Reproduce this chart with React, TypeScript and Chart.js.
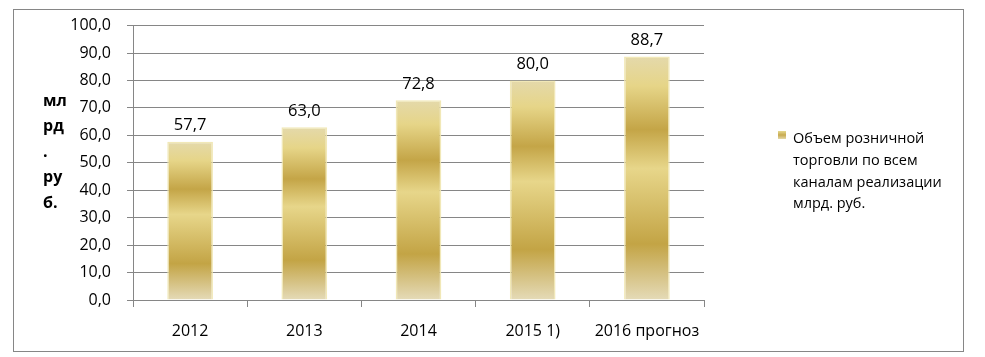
import { useEffect, useRef } from "react";
import { Chart, registerables } from "chart.js";

Chart.register(...registerables);

const categories = ["2012", "2013", "2014", "2015 1)", "2016 прогноз"];
const values = [57.7, 63.0, 72.8, 80.0, 88.7];
const seriesLabel = "Объем розничной торговли по всем каналам реализации млрд. руб.";
const legendLines = ["Объем розничной", "торговли по всем", "каналам реализации", "млрд. руб."];
const yTitleLines = ["мл", "рд", ".", "ру", "б."];
const yMin = 0;
const yMax = 100;
const yStep = 10;

const FONT = "'Open Sans', 'Noto Sans', sans-serif";
const GRID = "#868686";

const fmt = (v: number) => v.toFixed(1).replace(".", ",");

const decorPlugin = {
  id: "decor",
  beforeDraw(chart: any) {
    const ctx = chart.ctx;
    ctx.save();
    ctx.fillStyle = "#ffffff";
    ctx.fillRect(0, 0, chart.width, chart.height);
    ctx.strokeStyle = GRID;
    ctx.lineWidth = 1;
    ctx.strokeRect(13.5, 9.5, 950, 342);
    ctx.restore();
  },
  afterDatasetsDraw(chart: any) {
    const ctx = chart.ctx;
    const meta = chart.getDatasetMeta(0);
    ctx.save();
    ctx.fillStyle = "#000000";
    ctx.font = `16.5px ${FONT}`;
    ctx.textAlign = "center";
    ctx.textBaseline = "middle";
    meta.data.forEach((el: any, i: number) => {
      ctx.fillText(fmt(values[i]), el.x, el.y - 16);
    });
    ctx.restore();
  },
  afterDraw(chart: any) {
    const ctx = chart.ctx;
    ctx.save();
    // y-axis title
    ctx.fillStyle = "#000000";
    ctx.font = `bold 16px ${FONT}`;
    ctx.textAlign = "left";
    ctx.textBaseline = "middle";
    yTitleLines.forEach((t, i) => {
      ctx.fillText(t, 43, 101 + i * 25.5);
    });
    // legend
    const g = ctx.createLinearGradient(0, 131, 0, 139);
    g.addColorStop(0, "#e6d98f");
    g.addColorStop(0.5, "#c8aa50");
    g.addColorStop(1, "#e4d8a8");
    ctx.fillStyle = g;
    ctx.fillRect(778, 131, 8, 8);
    ctx.fillStyle = "#000000";
    ctx.font = `14.5px ${FONT}`;
    legendLines.forEach((t, i) => {
      ctx.fillText(t, 793, 139 + i * 21.7);
    });
    ctx.restore();
  },
};

export default function App() {
  const ref = useRef<HTMLCanvasElement | null>(null);

  useEffect(() => {
    if (!ref.current) return;
    const chart = new Chart(ref.current, {
      type: "bar",
      data: {
        labels: categories,
        datasets: [
          {
            label: seriesLabel,
            data: values,
            backgroundColor: (c: any) => {
              const ch = c.chart;
              const ys = ch.scales && ch.scales.y;
              if (!ys || c.dataIndex == null) return "#d4b85e";
              const top = ys.getPixelForValue(values[c.dataIndex]);
              const bottom = ys.getPixelForValue(0);
              if (!isFinite(top) || !isFinite(bottom) || top === bottom) return "#d4b85e";
              const g = ch.ctx.createLinearGradient(0, top, 0, bottom);
              g.addColorStop(0, "#e4d9ab");
              g.addColorStop(0.12, "#e6d588");
              g.addColorStop(0.3, "#c4a547");
              g.addColorStop(0.46, "#e7d68a");
              g.addColorStop(0.77, "#c3a445");
              g.addColorStop(1, "#e5dbb8");
              return g;
            },
            borderColor: "rgba(240, 230, 175, 0.9)",
            borderWidth: 1.5,
            barPercentage: 0.4,
            categoryPercentage: 1,
          },
        ],
      },
      options: {
        animation: false,
        responsive: true,
        maintainAspectRatio: false,
        layout: { padding: { left: 0, top: 24, right: 281, bottom: 0 } },
        plugins: {
          legend: { display: false },
          tooltip: { enabled: false },
          title: { display: false },
        },
        scales: {
          x: {
            offset: true,
            afterFit: (s: any) => {
              s.height = 57;
            },
            grid: {
              display: true,
              offset: true,
              drawOnChartArea: false,
              drawTicks: true,
              tickLength: 7,
              color: GRID,
            },
            border: { display: true, color: GRID, width: 1 },
            ticks: {
              color: "#000000",
              font: { family: FONT, size: 16 },
              padding: 15,
              maxRotation: 0,
              autoSkip: false,
            },
          },
          y: {
            min: yMin,
            max: yMax,
            afterFit: (s: any) => {
              s.width = 133;
            },
            grid: {
              color: GRID,
              drawTicks: true,
              tickLength: 6,
            },
            border: { display: true, color: GRID, width: 1 },
            ticks: {
              stepSize: yStep,
              color: "#000000",
              font: { family: FONT, size: 16 },
              padding: 16,
              callback: (v: any) => fmt(Number(v)),
            },
          },
        },
      },
      plugins: [decorPlugin],
    });
    return () => chart.destroy();
  }, []);

  return (
    <div style={{ position: "absolute", left: 0, top: 0, width: 985, height: 357 }}>
      <canvas ref={ref} />
    </div>
  );
}
